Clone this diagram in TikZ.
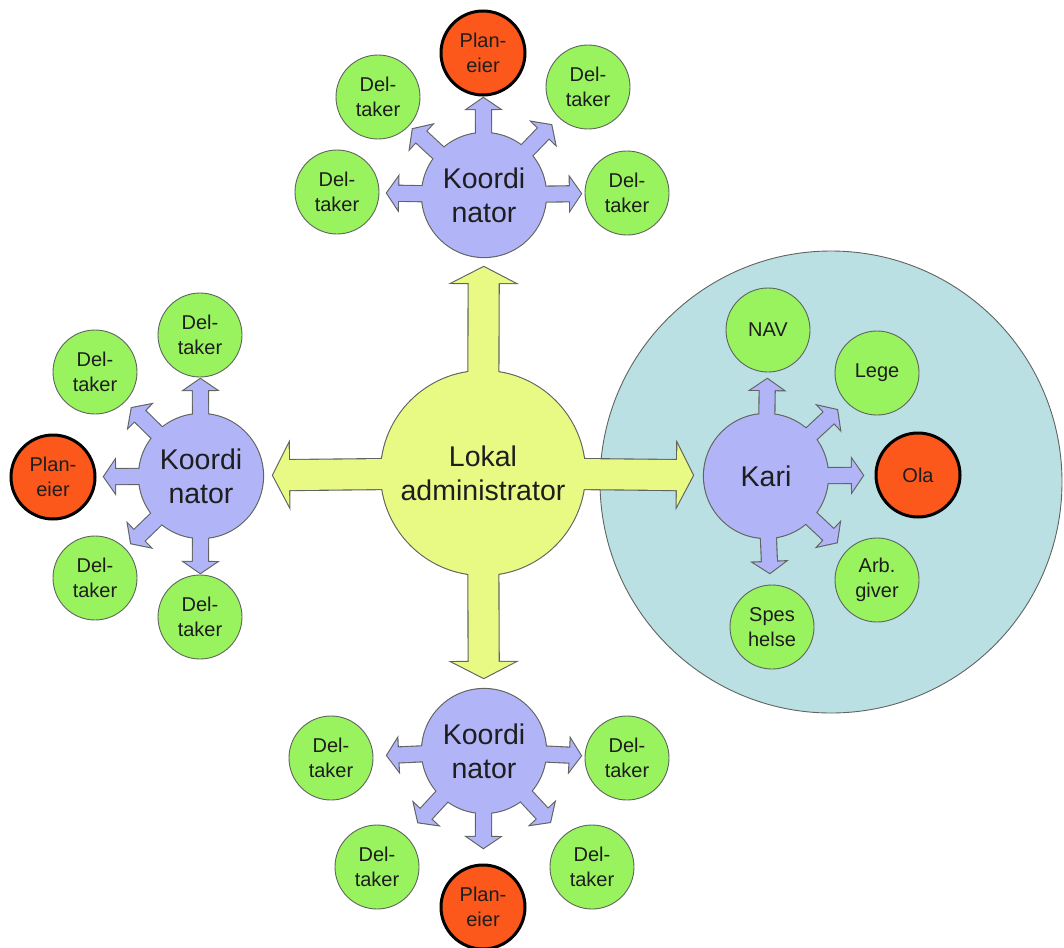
\documentclass[tikz,border=0pt]{standalone}
\usepackage{fontspec}
\setmainfont{Liberation Sans}
\usetikzlibrary{calc}
\definecolor{green1}{RGB}{153,243,94}
\definecolor{red1}{RGB}{252,88,28}
\definecolor{purp}{RGB}{178,180,248}
\definecolor{yell}{RGB}{232,250,132}
\definecolor{teal1}{RGB}{186,224,227}
\definecolor{edge}{RGB}{95,100,95}
\definecolor{txt}{RGB}{30,30,30}
\pgfdeclarelayer{grp}\pgfdeclarelayer{outl}\pgfdeclarelayer{fills}
\pgfsetlayers{grp,outl,fills,main}
\newcommand\txtS{\fontsize{20}{25}\selectfont}
\newcommand\txtL{\fontsize{28.5}{34}\selectfont}
% #1 id, #2 hub, #3 target, #4 tip distance, #5 half shaft, #6 half head, #7 head length
\newcommand\mkarrow[7]{%
  \coordinate (#1t) at ($(#2.center)!#4!(#3.center)$);
  \coordinate (#1b) at ($(#1t)!#7!(#2.center)$);
  \coordinate (#1p1) at ($(#2.center)!#5!90:(#1t)$);
  \coordinate (#1p2) at ($(#1b)!#5!90:(#1t)$);
  \coordinate (#1p3) at ($(#1b)!#6!90:(#1t)$);
  \coordinate (#1p4) at ($(#1b)!#6!-90:(#1t)$);
  \coordinate (#1p5) at ($(#1b)!#5!-90:(#1t)$);
  \coordinate (#1p6) at ($(#2.center)!#5!-90:(#1t)$);}
\newcommand\arrpath[2]{\path[#2] (#1p1) -- (#1p2) -- (#1p3) -- (#1t) -- (#1p4) -- (#1p5) -- (#1p6) -- cycle;}
\begin{document}
\begin{tikzpicture}[x=1pt,y=-1pt,
  sat/.style={circle, draw=edge, line width=0.9pt, fill=green1, minimum size=84pt, inner sep=0pt, align=center, font=\txtS, text=txt},
  own/.style={circle, draw=black, line width=3pt, fill=red1, minimum size=84pt, inner sep=0pt, align=center, font=\txtS, text=txt},
  hub/.style={circle, minimum size=124pt, inner sep=0pt, align=center, font=\txtL, text=txt},
  outl/.style={draw=edge, line width=2.2pt, line join=miter},
  purfill/.style={fill=purp},
  yelfill/.style={fill=yell}]
\useasboundingbox (0,0) rectangle (1064,947);
\begin{pgfonlayer}{grp}
\node[circle, fill=teal1, draw=edge, line width=0.9pt, minimum size=462pt, inner sep=0pt] (grp) at (831,482) {};
\end{pgfonlayer}
% hubs
\node[hub, minimum size=204pt] (lokal) at (483,473) {Lokal\\administrator};
\node[hub] (k1) at (484,195) {Koordi\\nator};
\node[hub] (k2) at (201,476) {Koordi\\nator};
\node[hub] (k3) at (484,751) {Koordi\\nator};
\node[hub] (kari) at (766,476) {Kari};
% top cluster
\node[own] (t1p) at (483,53) {Plan-\\eier};
\node[sat] (t1a) at (378,97) {Del-\\taker};
\node[sat] (t1b) at (588,87) {Del-\\taker};
\node[sat] (t1c) at (337,192) {Del-\\taker};
\node[sat] (t1d) at (627,193) {Del-\\taker};
% left cluster
\node[own] (t2p) at (53,477) {Plan-\\eier};
\node[sat] (t2a) at (200,335) {Del-\\taker};
\node[sat] (t2b) at (95,372) {Del-\\taker};
\node[sat] (t2c) at (95,578) {Del-\\taker};
\node[sat] (t2d) at (200,617) {Del-\\taker};
% bottom cluster
\node[own] (t3p) at (483,907) {Plan-\\eier};
\node[sat] (t3a) at (331,758) {Del-\\taker};
\node[sat] (t3b) at (627,758) {Del-\\taker};
\node[sat] (t3c) at (377,867) {Del-\\taker};
\node[sat] (t3d) at (592,867) {Del-\\taker};
% right cluster
\node[sat] (nav) at (768,330) {NAV};
\node[sat] (lege) at (877,373) {Lege};
\node[own] (ola) at (918,475) {Ola};
\node[sat] (arb) at (877,580) {Arb.\\giver};
\node[sat] (spes) at (772,627) {Spes\\helse};
% arrow geometry
\foreach \h/\t in {k1/t1p,k1/t1a,k1/t1b,k1/t1c,k1/t1d,
                   k2/t2p,k2/t2a,k2/t2b,k2/t2c,k2/t2d,
                   k3/t3p,k3/t3a,k3/t3b,k3/t3c,k3/t3d,
                   kari/nav,kari/lege,kari/ola,kari/arb,kari/spes}
  {\mkarrow{a\t}{\h}{\t}{97pt}{7.5pt}{16pt}{11pt}}
\mkarrow{yk1}{lokal}{k1}{206pt}{15pt}{31pt}{16pt}
\mkarrow{yk2}{lokal}{k2}{210pt}{15pt}{31pt}{16pt}
\mkarrow{yk3}{lokal}{k3}{205pt}{15pt}{31pt}{16pt}
\mkarrow{ykari}{lokal}{kari}{210pt}{15pt}{31pt}{16pt}
\begin{pgfonlayer}{outl}
  \foreach \t in {t1p,t1a,t1b,t1c,t1d,t2p,t2a,t2b,t2c,t2d,t3p,t3a,t3b,t3c,t3d,nav,lege,ola,arb,spes}
    {\arrpath{a\t}{outl}}
  \foreach \t in {k1,k2,k3,kari} {\arrpath{y\t}{outl}}
  \foreach \h in {k1,k2,k3,kari} {\path[outl] (\h) circle (62pt);}
  \path[outl] (lokal) circle (102pt);
\end{pgfonlayer}
\begin{pgfonlayer}{fills}
  \foreach \t in {t1p,t1a,t1b,t1c,t1d,t2p,t2a,t2b,t2c,t2d,t3p,t3a,t3b,t3c,t3d,nav,lege,ola,arb,spes}
    {\arrpath{a\t}{purfill}}
  \foreach \h in {k1,k2,k3,kari} {\path[purfill] (\h) circle (62pt);}
  \foreach \t in {k1,k2,k3,kari} {\arrpath{y\t}{yelfill}}
  \path[yelfill] (lokal) circle (102pt);
\end{pgfonlayer}
\end{tikzpicture}
\end{document}
